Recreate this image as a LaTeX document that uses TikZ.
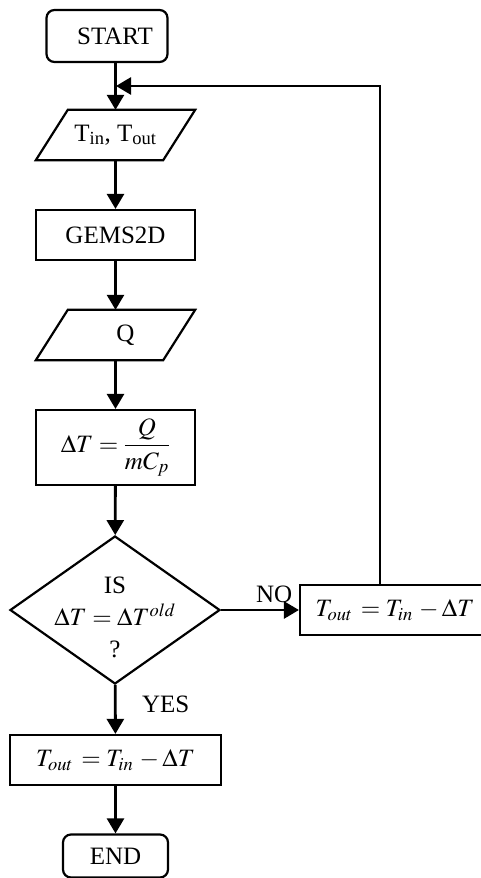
\documentclass[tikz,border=0pt]{standalone}
\usepackage{mathptmx}
\usepackage[no-math]{fontspec}
\setmainfont{Liberation Serif}
\usetikzlibrary{shapes.geometric,arrows.meta}
\begin{document}
\begin{tikzpicture}[x=1pt,y=-1pt,every node/.style={font=\fontsize{25}{32}\selectfont},
    box/.style={rectangle,draw,line width=2.2pt,minimum width=159pt,minimum height=50pt,inner sep=0pt},
    terminal/.style={box,rounded corners=8pt},
    io/.style={rectangle,minimum width=127pt,minimum height=50pt,inner sep=0pt,
        append after command={\pgfextra{\draw[line width=2.2pt]
            ([xshift=-16pt]\tikzlastnode.south west) -- ([xshift=16pt]\tikzlastnode.north west)
            -- ([xshift=16pt]\tikzlastnode.north east) -- ([xshift=-16pt]\tikzlastnode.south east) -- cycle;}}},
    decision/.style={diamond,draw,line width=2.2pt,minimum width=210pt,minimum height=148pt,inner sep=0pt},
    flow/.style={line width=2.8pt,-{Triangle[length=15pt,width=17pt]}}]
                \useasboundingbox (0,0) rectangle (481,878);

                \node[terminal, minimum width=121pt, minimum height=52pt] at (107, 36) (start) {\hspace*{16pt}START};
                \node[io] at (115.5, 135) (tin) {T\textsubscript{in}, T\textsubscript{out}};
                \node[box] at (115.5, 235) (gems) {GEMS2D};
                \node[io] at (115.5, 335) (q) {\hspace*{20pt}Q};
                \node[box, minimum height=75pt] at (115.5, 447.5) (dt) {$\displaystyle\Delta T = \frac{Q}{mC_p}$};
                \node[decision] at (115, 610) (check) {};
                \node[align=center] at (115, 617) (checktext) {IS\\$\Delta T = \Delta T^{old}$\\?};
                \node[box, minimum width=190pt] at (395, 610) (update) {$T_{out}\,= T_{in}\,- \Delta T$};
                \node[box, minimum width=211pt] at (115.5, 760) (final) {$T_{out}\,= T_{in}\,- \Delta T$};
                \node[terminal, minimum width=105pt, minimum height=43pt] at (115.5, 856) (end) {END};
                \coordinate (rise) at (380, 585);
                \coordinate (join) at (116, 86);

                \path[flow]
					(start.south -| tin.north) edge (tin.north)
					(tin) edge (gems)
					(gems) edge (q)
					(q) edge (dt)
					(dt) edge (check)
					(check) edge node [anchor=south east, pos=1, xshift=-2pt, yshift=3pt] {NO} (update)
					(check) edge node [right, pos=0.4, xshift=22pt] {YES} (final)
					(final) edge (end)
                    ;
                \draw[flow] (rise) |- (join);
            \end{tikzpicture}
\end{document}
